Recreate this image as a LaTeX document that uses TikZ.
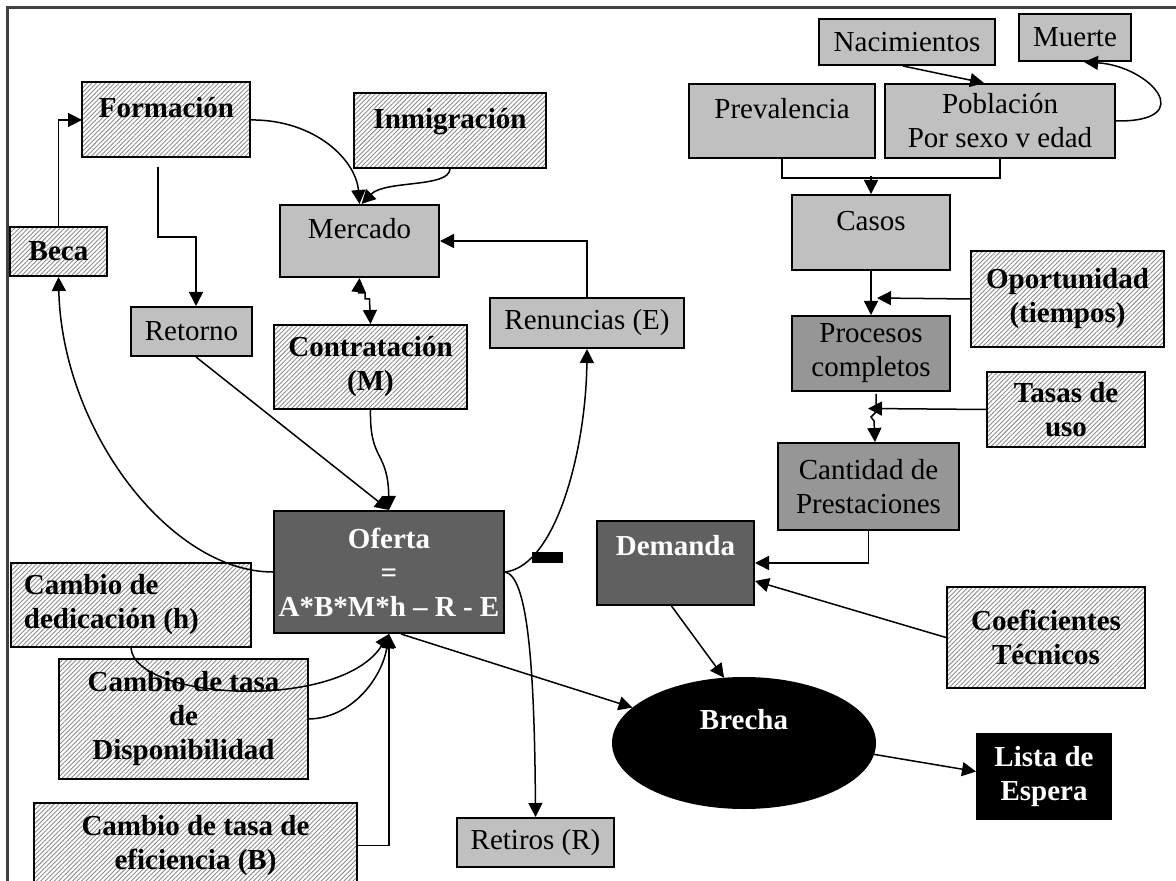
\documentclass[tikz,border=0pt]{standalone}
\usepackage{fontspec}
\setmainfont{Liberation Serif}
\usetikzlibrary{arrows.meta,patterns.meta,shapes.geometric}
\definecolor{lgray}{HTML}{C0C0C0}
\definecolor{mgray}{HTML}{969696}
\definecolor{dgray}{HTML}{606060}
\definecolor{hatchgray}{HTML}{8E8E8E}
\definecolor{framegray}{HTML}{404040}
\newcommand\myfs{\fontsize{14.5}{17}\selectfont}
\tikzset{
  base/.style={draw=black, line width=1pt, inner sep=0pt, font=\myfs, align=center},
  lg/.style={base, fill=lgray},
  mg/.style={base, fill=mgray},
  dg/.style={base, fill=dgray, text=white, font=\myfs\bfseries},
  blk/.style={base, fill=black, text=white, font=\myfs\bfseries},
  hatch/.style={base, pattern={Lines[angle=45,distance=1.6pt,line width=0.45pt]}, pattern color=hatchgray, font=\myfs\bfseries},
  wh/.style 2 args={anchor=north west, minimum width=#1*0.5pt, minimum height=#2*0.5pt},
  tp/.style 2 args={text height=#1, text depth=#2},
  arr/.style={-{Triangle[length=7pt,width=7pt]}, line width=0.75pt},
  darr/.style={{Triangle[length=7pt,width=7pt]}-{Triangle[length=7pt,width=7pt]}, line width=0.75pt},
}
\begin{document}
\begin{tikzpicture}[x=0.5pt,y=-0.5pt]
\clip (0,0) rectangle (1176,881);
\fill[white] (0,0) rectangle (1176,881);
\draw[line width=1.2pt, framegray] (1176,7.5) -- (7.5,7.5) -- (7.5,881);

% left part
\node[hatch, wh={168}{75}, tp={17.75pt}{19.75pt}] (formacion) at (82,82) {Formación};
\node[hatch, wh={192}{75}, tp={17.75pt}{19.75pt}] (inmigracion) at (353,92) {Inmigración};
\node[hatch, wh={97}{49}] (beca) at (9,226) {Beca};
\node[lg, wh={159}{72}, tp={16.75pt}{19.25pt}] (mercado) at (279,204) {Mercado};
\node[lg, wh={121}{49}] (retorno) at (130,306) {Retorno};
\node[hatch, wh={193}{84}] (contratacion) at (273,324) {Contratación\\(M)};
\node[lg, wh={194}{50}] (renuncias) at (489,297) {Renuncias (E)};
\node[dg, wh={230}{122}] (oferta) at (273,510) {Oferta\\=\\A*B*M*h – R - E};
\node[fill=black, inner sep=0pt, wh={31}{11}] (minus) at (532,552) {};
\node[hatch, wh={240}{84}, align=left] (dedicacion) at (10,562) {\makebox[107pt][l]{Cambio de}\\dedicación (h)};
\node[hatch, wh={249}{120}] (disponibilidad) at (58,658) {Cambio de tasa\\de\\Disponibilidad};
\node[hatch, wh={323}{85}] (eficiencia) at (33,802) {Cambio de tasa de\\eficiencia (B)};
\node[lg, wh={157}{49}] (retiros) at (456,817) {Retiros (R)};

% right part
\node[lg, wh={176}{46}] (nacimientos) at (818,18) {Nacimientos};
\node[lg, wh={112}{47}] (muerte) at (1018,13) {Muerte};
\node[lg, wh={186}{74}, tp={17.25pt}{19.75pt}] (prevalencia) at (688,83) {Prevalencia};
\node[lg, wh={230}{74}] (poblacion) at (884,83) {Población\\Por sexo v edad};
\node[lg, wh={158}{75}, tp={17.75pt}{19.75pt}] (casos) at (791,194) {Casos};
\node[hatch, wh={193}{96}] (oportunidad) at (970,250) {Oportunidad\\(tiempos)};
\node[mg, wh={158}{75}] (procesos) at (791,315) {Procesos\\completos};
\node[hatch, wh={158}{75}] (tasas) at (986,371) {Tasas de\\uso};
\node[mg, wh={181}{87}] (cantidad) at (777,442) {Cantidad de\\Prestaciones};
\node[dg, wh={157}{84}, tp={17.25pt}{24.75pt}] (demanda) at (596,520) {Demanda};
\node[hatch, wh={198}{101}] (coeficientes) at (946,586) {Coeficientes\\Técnicos};
\node[blk, ellipse, minimum width=131pt, minimum height=65pt, tp={10pt}{23.5pt}] (brecha) at (744,743) {Brecha};
\node[blk, wh={134}{85}] (lista) at (976,733) {Lista de\\Espera};

% connectors left
\draw[arr] (beca.north) |- (formacion.west);
\coordinate (fr) at (158,167);
\draw[arr] (fr) -- (158,237) -| ([xshift=2.25pt]retorno.north);
\draw[arr] (formacion.east) .. controls (315,119.5) and (356,160) .. (mercado.north);
\draw[arr] (inmigracion.south) .. controls (449,188) and (385,180) .. ([xshift=1pt]mercado.north);
\draw[darr] (mercado.south) -- (358.5,293) -- (365,293) -- (365,299) -- (369.5,299) -- (contratacion.north);
\draw[arr] (contratacion.south) .. controls (369.5,462) and (388,450) .. (oferta.north);
\draw[arr] ([xshift=2.25pt]retorno.south) -- (oferta.north);
\draw[arr] (renuncias.north) |- (mercado.east);
\draw[arr] (oferta.east) .. controls (556,566) and (586,450) .. (renuncias.south);
\draw[arr] (oferta.east) .. controls (527,576) and (534.5,660) .. (retiros.north);
\draw[arr] (oferta.west) .. controls (170,572) and (62,430) .. (beca.south);
\draw[arr] ([xshift=6pt]oferta.south) -- (brecha);
\draw[arr] (dedicacion.south) .. controls (135,700) and (340,712) .. (oferta.south);
\draw[arr] (disponibilidad.east) .. controls (352,718) and (382,678) .. (oferta.south);
\draw[arr] (eficiencia.east) -| (oferta.south);

% connectors right
\draw[arr] ([xshift=-2pt]nacimientos.south) -- ([xshift=-8pt]poblacion.north);
\draw[arr] (poblacion.east) .. controls (1200,122) and (1150,66) .. ([xshift=4.5pt]muerte.south);
\draw[line width=0.75pt] (prevalencia.south) -- ++(0,19) -| (poblacion.south);
\draw[arr] ([yshift=9pt]casos.north) -- (casos.north);
\draw[arr] (casos.south) -- (procesos.north);
\coordinate (opend) at (877,298);
\draw[arr] (oportunidad.west) -- (opend);
\coordinate (pc1) at (876,394);
\draw[arr] (pc1) -- (876,412) -- (871,417) -- (874,421) -- ([xshift=3.25pt]cantidad.north);
\coordinate (tsend) at (868,408.5);
\draw[arr] (tasas.west) -- (tsend);
\draw[arr] (cantidad.south) |- (demanda.east);
\draw[arr] (coeficientes.west) -- ([yshift=-9pt]demanda.east);
\draw[arr] ([xshift=-2pt]demanda.south) -- (brecha.107);
\draw[arr] (brecha.-5) -- ([yshift=2.5pt]lista.west);
\end{tikzpicture}
\end{document}
